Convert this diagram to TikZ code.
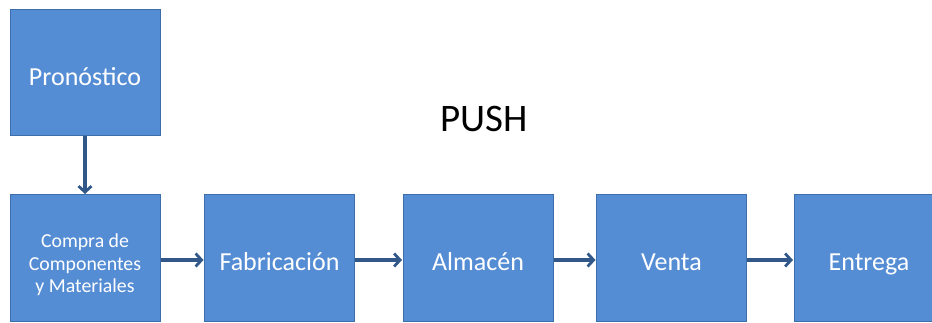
\documentclass[tikz,border=0pt]{standalone}
\usepackage{fontspec}
\setmainfont{Carlito}
\usetikzlibrary{arrows.meta}
\definecolor{boxfill}{RGB}{85,141,213}
\definecolor{boxline}{RGB}{62,110,170}
\definecolor{flow}{RGB}{50,88,138}
\tikzset{
  stage/.style={draw=boxline, line width=1pt, fill=boxfill, minimum width=150pt,
    minimum height=126pt, inner sep=0pt, text=white, text height=28pt, text depth=2pt,
    font=\fontsize{26}{30}\selectfont},
  flowarrow/.style={draw=flow, line width=3.2pt,
    -{Straight Barb[length=6pt, width=13pt, line width=2.8pt]}, shorten >=0.5pt},
}
\begin{document}
\begin{tikzpicture}[x=1pt, y=-1pt]
  \useasboundingbox (0,0) rectangle (932,323);
  \clip (0,0) rectangle (932,323);

  % forecast box above the first stage
  \node[stage] (pron) at (85,73) {Pronóstico};

  % process chain
  \node[stage] (compra) at (85,258) {};
  \node[white, align=center, font=\fontsize{19.8}{22.5}\selectfont] (compratxt)
    at ([yshift=-7pt]compra.center) {Compra de\\Componentes\\y Materiales};
  \node[stage] (fab) at (279.5,258) {Fabricación};
  \node[stage] (alm) at (478,258) {Almacén};
  \node[stage] (venta) at (671.5,258) {Venta};
  \node[stage] (entrega) at (869,258) {Entrega};

  % title
  \node[font=\fontsize{39}{44}\selectfont] (title) at (484,119) {PUSH};

  % connectors
  \draw[flowarrow] (pron.south) -- (compra.north);
  \draw[flowarrow] ([yshift=-2pt]compra.east) -- ([yshift=-2pt]fab.west);
  \draw[flowarrow] ([yshift=-2pt]fab.east) -- ([yshift=-2pt]alm.west);
  \draw[flowarrow] ([yshift=-2pt]alm.east) -- ([yshift=-2pt]venta.west);
  \draw[flowarrow] ([yshift=-2pt]venta.east) -- ([yshift=-2pt]entrega.west);
\end{tikzpicture}
\end{document}
